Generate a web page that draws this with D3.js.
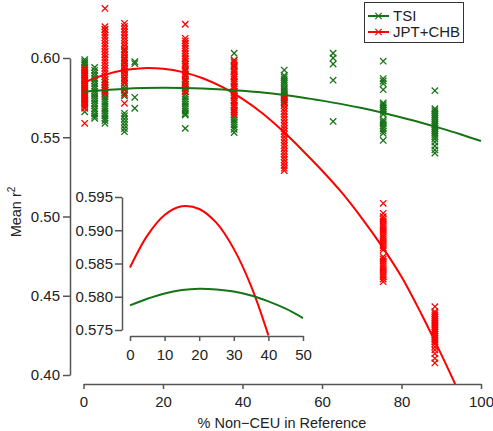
<!DOCTYPE html>
<html>
<head>
<meta charset="utf-8">
<script src="https://cdn.jsdelivr.net/npm/d3@7"></script>
<style>
  html, body { margin: 0; padding: 0; background: #fff; }
  svg { display: block; }
  text { font-family: "Liberation Sans", Arial, Helvetica, sans-serif; fill: #222; }
</style>
</head>
<body>
<svg id="chart" width="493" height="431"></svg>
<script>
// ---------------- data ----------------
const pctNonCEU = [0.3, 2.8, 5.4, 10.3, 12.9, 25.6, 37.9, 50.5, 62.8, 75.4, 88.4];

const tsiValues = [
  [0.5990, 0.5978, 0.5967, 0.5955, 0.5940, 0.5921, 0.5905, 0.5890, 0.5872, 0.5858, 0.5840, 0.5826, 0.5810, 0.5795, 0.5782, 0.5770, 0.5758, 0.5746, 0.5735, 0.5712, 0.5661],
  [0.5940, 0.5922, 0.5905, 0.5888, 0.5870, 0.5855, 0.5838, 0.5822, 0.5806, 0.5790, 0.5775, 0.5760, 0.5745, 0.5730, 0.5714, 0.5698, 0.5680, 0.5665, 0.5648, 0.5633, 0.5620],
  [0.6180, 0.5861, 0.5845, 0.5830, 0.5815, 0.5800, 0.5785, 0.5770, 0.5755, 0.5740, 0.5725, 0.5710, 0.5695, 0.5680, 0.5665, 0.5650, 0.5635, 0.5620, 0.5605, 0.5588],
  [0.6050, 0.6020, 0.5995, 0.5970, 0.5945, 0.5920, 0.5895, 0.5870, 0.5845, 0.5820, 0.5800, 0.5780, 0.5760, 0.5651, 0.5635, 0.5615, 0.5595, 0.5575, 0.5555, 0.5535],
  [0.5977, 0.5965, 0.5752, 0.5683],
  [0.5995, 0.5960, 0.5925, 0.5890, 0.5860, 0.5835, 0.5810, 0.5790, 0.5772, 0.5755, 0.5740, 0.5725, 0.5710, 0.5695, 0.5680, 0.5665, 0.5650, 0.5640, 0.5556],
  [0.6030, 0.5985, 0.5950, 0.5915, 0.5880, 0.5850, 0.5820, 0.5790, 0.5760, 0.5730, 0.5700, 0.5670, 0.5640, 0.5625, 0.5610, 0.5595, 0.5580, 0.5565, 0.5550, 0.5530],
  [0.5924, 0.5890, 0.5878, 0.5865, 0.5852, 0.5840, 0.5826, 0.5812, 0.5800, 0.5786, 0.5772, 0.5760, 0.5747, 0.5735, 0.5722, 0.5714],
  [0.6030, 0.6000, 0.5962, 0.5860, 0.5600],
  [0.5980, 0.5870, 0.5855, 0.5838, 0.5800, 0.5716, 0.5705, 0.5693, 0.5682, 0.5670, 0.5658, 0.5645, 0.5610, 0.5598, 0.5585, 0.5570, 0.5555, 0.5540, 0.5525, 0.5480],
  [0.5794, 0.5680, 0.5668, 0.5655, 0.5642, 0.5630, 0.5618, 0.5605, 0.5592, 0.5580, 0.5568, 0.5555, 0.5542, 0.5530, 0.5518, 0.5505, 0.5490, 0.5470, 0.5445, 0.5420, 0.5400]
];

const jptValues = [
  [0.5935, 0.5922, 0.5910, 0.5897, 0.5884, 0.5871, 0.5858, 0.5845, 0.5832, 0.5820, 0.5807, 0.5794, 0.5781, 0.5768, 0.5755, 0.5742, 0.5729, 0.5716, 0.5703, 0.5690, 0.5683, 0.5588],
  [],
  [0.6313, 0.6198, 0.6180, 0.6162, 0.6145, 0.6128, 0.6110, 0.6092, 0.6075, 0.6058, 0.6040, 0.6022, 0.6005, 0.5988, 0.5970, 0.5952, 0.5935, 0.5918, 0.5900, 0.5882, 0.5865, 0.5848, 0.5830, 0.5812, 0.5795, 0.5777],
  [0.6219, 0.6200, 0.6182, 0.6164, 0.6146, 0.6128, 0.6110, 0.6092, 0.6074, 0.6056, 0.6038, 0.6020, 0.6002, 0.5984, 0.5966, 0.5948, 0.5930, 0.5912, 0.5894, 0.5876, 0.5858, 0.5840, 0.5800, 0.5770, 0.5714],
  [],
  [0.6213, 0.6124, 0.6108, 0.6092, 0.6076, 0.6060, 0.6044, 0.6028, 0.6012, 0.5996, 0.5980, 0.5964, 0.5948, 0.5932, 0.5916, 0.5900, 0.5884, 0.5868, 0.5852, 0.5836, 0.5820, 0.5804, 0.5787],
  [0.5987, 0.5972, 0.5957, 0.5942, 0.5927, 0.5912, 0.5897, 0.5882, 0.5867, 0.5852, 0.5837, 0.5822, 0.5807, 0.5792, 0.5777, 0.5762, 0.5747, 0.5732, 0.5717, 0.5702, 0.5687, 0.5672, 0.5657, 0.5642],
  [0.5760, 0.5740, 0.5720, 0.5700, 0.5682, 0.5664, 0.5646, 0.5628, 0.5610, 0.5592, 0.5574, 0.5556, 0.5538, 0.5520, 0.5502, 0.5484, 0.5466, 0.5448, 0.5430, 0.5412, 0.5394, 0.5376, 0.5358, 0.5340, 0.5322, 0.5305, 0.5290],
  [],
  [0.5083, 0.5020, 0.4999, 0.4985, 0.4971, 0.4957, 0.4943, 0.4929, 0.4915, 0.4901, 0.4887, 0.4873, 0.4859, 0.4845, 0.4831, 0.4817, 0.4803, 0.4789, 0.4746, 0.4732, 0.4718, 0.4704, 0.4690, 0.4676, 0.4662, 0.4648, 0.4634, 0.4620, 0.4605, 0.4589],
  [0.4431, 0.4400, 0.4388, 0.4376, 0.4364, 0.4352, 0.4340, 0.4328, 0.4316, 0.4304, 0.4292, 0.4280, 0.4268, 0.4256, 0.4244, 0.4232, 0.4220, 0.4208, 0.4196, 0.4178, 0.4158, 0.4135, 0.4105, 0.4076]
];

// fitted curves
const tsiFitX = [0, 5, 10, 15, 20, 25, 30, 35, 40, 45, 50, 55, 60, 65, 70, 75, 80, 85, 90, 95, 100];
const tsiFitY = [0.5787, 0.5797, 0.5805, 0.5810, 0.5812, 0.5811, 0.5808, 0.5802, 0.5793, 0.5782, 0.5768, 0.5751, 0.5731, 0.5709, 0.5684, 0.5656, 0.5625, 0.5592, 0.5556, 0.5517, 0.5476];
const jptFitX = [0, 5, 10, 15, 20, 25, 30, 35, 40, 45, 50, 55, 60, 65, 70, 75, 80, 85, 90, 93.5];
const jptFitY = [0.5844, 0.5892, 0.5923, 0.5936, 0.5932, 0.5911, 0.5872, 0.5816, 0.5742, 0.5651, 0.5542, 0.5420, 0.5290, 0.5150, 0.4990, 0.4815, 0.4620, 0.4385, 0.4130, 0.3943];

const xTicks = [0, 20, 40, 60, 80, 100];
const yTicks = [0.40, 0.45, 0.50, 0.55, 0.60];
const insetXTicks = [0, 10, 20, 30, 40, 50];
const insetYTicks = [0.575, 0.580, 0.585, 0.590, 0.595];
const seriesNames = ["TSI", "JPT+CHB"];
const seriesColors = ["#167316", "#ff0000"];

// ---------------- drawing ----------------
const svg = d3.select("#chart");
const axisColor = "#555";

const x = d3.scaleLinear().domain([0, 100]).range([83.5, 481]);
const y = d3.scaleLinear().domain([0.40, 0.60]).range([375, 58]);

const xi = d3.scaleLinear().domain([0, 50]).range([130, 303]);
const yi = d3.scaleLinear().domain([0.575, 0.595]).range([330, 197]);

function styleAxis(g) {
  g.select(".domain").attr("stroke", axisColor).attr("stroke-width", 1.5);
  g.selectAll(".tick line").attr("stroke", axisColor).attr("stroke-width", 1.5);
  g.selectAll(".tick text").attr("fill", "#222").style("font-size", "15px")
    .style("font-family", '"Liberation Sans", Arial, sans-serif');
}

// main axes
svg.append("g").attr("transform", "translate(0,384)")
  .call(d3.axisBottom(x).tickValues(xTicks).tickFormat(d3.format("d")).tickSize(5).tickSizeOuter(0).tickPadding(7))
  .call(styleAxis);
svg.append("g").attr("transform", "translate(70,0)")
  .call(d3.axisLeft(y).tickValues(yTicks).tickFormat(d3.format(".2f")).tickSize(7).tickSizeOuter(0).tickPadding(3))
  .call(styleAxis);

// axis titles
svg.append("text").attr("x", 282).attr("y", 428).attr("text-anchor", "middle")
  .style("font-size", "14.5px").text("% Non\u2212CEU in Reference");
const yt = svg.append("text").attr("transform", "translate(21,212) rotate(-90)")
  .attr("text-anchor", "middle").style("font-size", "14.5px");
yt.append("tspan").text("Mean r");
yt.append("tspan").attr("dy", -6).style("font-size", "10px").text("2");

// scatter points
const cross = "M-3.2,-3.2L3.2,3.2M-3.2,3.2L3.2,-3.2";
function drawPoints(values, color) {
  const pts = [];
  values.forEach((vals, i) => vals.forEach(v => pts.push([pctNonCEU[i], v])));
  svg.append("g").selectAll("path").data(pts).join("path")
    .attr("d", cross)
    .attr("transform", d => `translate(${x(d[0])},${y(d[1])})`)
    .attr("fill", "none").attr("stroke", color).attr("stroke-width", 1.3);
}
drawPoints(tsiValues, seriesColors[0]);
drawPoints(jptValues, seriesColors[1]);

// fitted lines main
function fitPoints(xs, ys) { return xs.map((d, i) => [d, ys[i]]); }
const lineMain = d3.line().x(d => x(d[0])).y(d => y(d[1])).curve(d3.curveCatmullRom);
svg.append("path").datum(fitPoints(jptFitX, jptFitY)).attr("d", lineMain)
  .attr("fill", "none").attr("stroke", seriesColors[1]).attr("stroke-width", 2);
svg.append("path").datum(fitPoints(tsiFitX, tsiFitY)).attr("d", lineMain)
  .attr("fill", "none").attr("stroke", seriesColors[0]).attr("stroke-width", 2);

// inset axes
svg.append("g").attr("transform", "translate(0,336)")
  .call(d3.axisBottom(xi).tickValues(insetXTicks).tickFormat(d3.format("d")).tickSize(5).tickSizeOuter(0).tickPadding(8))
  .call(styleAxis);
svg.append("g").attr("transform", "translate(122,0)")
  .call(d3.axisLeft(yi).tickValues(insetYTicks).tickFormat(d3.format(".3f")).tickSize(7).tickSizeOuter(0).tickPadding(2))
  .call(styleAxis);

// inset curves
const lineInset = d3.line().x(d => xi(d[0])).y(d => yi(d[1])).curve(d3.curveCatmullRom);
svg.append("path").datum(fitPoints(jptFitX, jptFitY).filter(d => d[0] <= 40)).attr("d", lineInset)
  .attr("fill", "none").attr("stroke", seriesColors[1]).attr("stroke-width", 2);
svg.append("path").datum(fitPoints(tsiFitX, tsiFitY).filter(d => d[0] <= 50)).attr("d", lineInset)
  .attr("fill", "none").attr("stroke", seriesColors[0]).attr("stroke-width", 2);

// legend
const lg = svg.append("g");
lg.append("rect").attr("x", 364.5).attr("y", 2.5).attr("width", 99).attr("height", 40)
  .attr("fill", "#fff").attr("stroke", "#333").attr("stroke-width", 1);
seriesNames.forEach((name, i) => {
  const ly = 16 + i * 16;
  lg.append("line").attr("x1", 368).attr("x2", 389).attr("y1", ly).attr("y2", ly)
    .attr("stroke", seriesColors[i]).attr("stroke-width", 2);
  lg.append("path").attr("d", cross).attr("transform", `translate(378.5,${ly})`)
    .attr("fill", "none").attr("stroke", seriesColors[i]).attr("stroke-width", 1.2);
  lg.append("text").attr("x", 393).attr("y", ly + 5).style("font-size", "15px").text(name);
});
</script>
</body>
</html>
